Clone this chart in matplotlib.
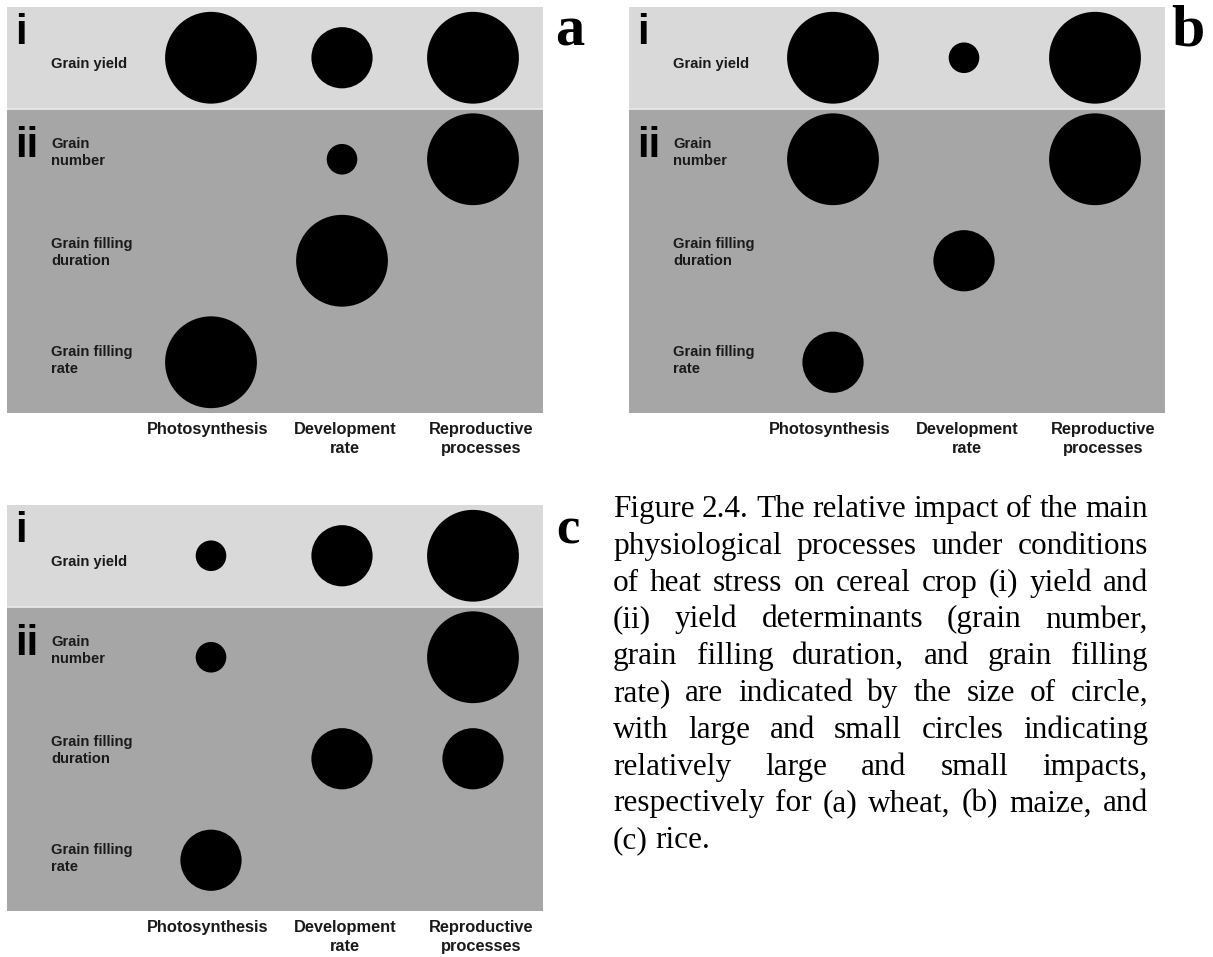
import matplotlib

matplotlib.use("Agg")

import matplotlib.pyplot as plt

# yield components (rows) and physiological processes (columns)
traits = ["Grain yield", "Grain\nnumber", "Grain filling\nduration", "Grain filling\nrate"]
processes = ["Photosynthesis", "Development\nrate", "Reproductive\nprocesses"]

# relative impact of heat stress: 0 = none, 1 = small, 2 = medium, 3 = large
wheat_impact = [
    [3, 2, 3],
    [0, 1, 3],
    [0, 3, 0],
    [3, 0, 0],
]
maize_impact = [
    [3, 1, 3],
    [3, 0, 3],
    [0, 2, 0],
    [2, 0, 0],
]
rice_impact = [
    [1, 2, 3],
    [1, 0, 3],
    [0, 2, 2],
    [2, 0, 0],
]
panel_letters = ["a", "b", "c"]

caption_lines = [
    "Figure 2.4. The relative impact of the main",
    "physiological processes under conditions",
    "of heat stress on cereal crop (i) yield and",
    "(ii) yield determinants (grain number,",
    "grain filling duration, and grain filling",
    "rate) are indicated by the size of circle,",
    "with large and small circles indicating",
    "relatively large and small impacts,",
    "respectively for (a) wheat, (b) maize, and",
    "(c) rice.",
]

# layout, in pixels of the saved image
FIG_W, FIG_H, DPI = 1213, 957, 100
BOX_W, BOX_H = 536, 406
PANEL_ORIGINS = [(7, 7), (629, 7), (7, 505)]
LETTER_POS = [(555, 45), (1171, 45), (556, 543)]
LETTER_SIZES = [42, 43, 38]
COL0, COL_STEP = 204, 131
ROW_STEP = BOX_H / 4
DIAM_PER_LEVEL = 30.6
LABEL_X = 44
LABEL_DY = [6, -7, -8, -2]
COL_LABEL_X = [201, 338, 474]
LIGHT, DARK = "#d9d9d9", "#a6a6a6"
SANS = ["Liberation Sans", "DejaVu Sans"]
SERIF = ["Liberation Serif", "DejaVu Serif"]


def px_to_axes(x: float, y: float) -> tuple[float, float]:
    return x / BOX_W, 1 - y / BOX_H


def draw_panel(fig, origin, impact, letter, letter_pos, letter_size) -> None:
    ox, oy = origin
    ax = fig.add_axes([ox / FIG_W, 1 - (oy + BOX_H) / FIG_H, BOX_W / FIG_W, BOX_H / FIG_H])
    ax.set_xlim(-COL0 / COL_STEP, (BOX_W - COL0) / COL_STEP)
    ax.set_ylim(4, 0)
    ax.set_axis_off()

    ax.axhspan(0, 1, color=LIGHT, lw=0, zorder=0)
    ax.axhspan(1, 4, color=DARK, lw=0, zorder=0)
    ax.axhline(1, color="#ebebeb", lw=1.2, zorder=1)

    xs, ys, sizes = [], [], []
    for r, row in enumerate(impact):
        for c, level in enumerate(row):
            if level > 0:
                xs.append(c)
                ys.append(r + 0.5)
                diam_pt = level * DIAM_PER_LEVEL * 72 / DPI
                sizes.append(diam_pt ** 2)
    ax.scatter(xs, ys, s=sizes, c="black", linewidths=0, zorder=3, clip_on=False)

    for r, label in enumerate(traits):
        x, y = px_to_axes(LABEL_X, (r + 0.5) * ROW_STEP + LABEL_DY[r])
        ax.text(x, y, label, transform=ax.transAxes, ha="left", va="center",
                fontsize=10.6, fontweight="bold", family=SANS, color="#1a1a1a", linespacing=1.3)

    for numeral, base in (("i", 37), ("ii", 150)):
        x, y = px_to_axes(8.5, base)
        ax.text(x, y, numeral, transform=ax.transAxes, ha="left", va="baseline",
                fontsize=30, fontweight="bold", family=SANS, color="black")

    for cx, label in zip(COL_LABEL_X, processes):
        x, y = px_to_axes(cx, 415)
        ax.text(x, y, label, transform=ax.transAxes, ha="center", va="top",
                fontsize=11.8, fontweight="bold", family=SANS, color="#1a1a1a",
                linespacing=1.35, clip_on=False)

    lx, ly = letter_pos
    fig.text(lx / FIG_W, 1 - ly / FIG_H, letter, ha="left", va="baseline",
             fontsize=letter_size, fontweight="bold", family=SERIF)


def draw_caption(fig) -> None:
    left, right = 613, 1148
    first_base, step = 517, 36.8
    size = 22.5
    renderer = fig.canvas.get_renderer()
    space = 0.25 * size * DPI / 72
    for k, line in enumerate(caption_lines):
        words = line.split(" ")
        y = 1 - (first_base + k * step) / FIG_H
        texts = [fig.text(0, y, w, ha="left", va="baseline", fontsize=size, family=SERIF)
                 for w in words]
        widths = [t.get_window_extent(renderer).width for t in texts]
        if k == len(caption_lines) - 1 or len(words) == 1:
            gap = space
        else:
            gap = (right - left - sum(widths)) / (len(words) - 1)
        x = left
        for t, w in zip(texts, widths):
            t.set_x(x / FIG_W)
            x += w + gap


def main() -> None:
    fig = plt.figure(figsize=(FIG_W / DPI, FIG_H / DPI), dpi=DPI, facecolor="white")
    impacts = [wheat_impact, maize_impact, rice_impact]
    for origin, impact, letter, lpos, lsize in zip(PANEL_ORIGINS, impacts, panel_letters,
                                                   LETTER_POS, LETTER_SIZES):
        draw_panel(fig, origin, impact, letter, lpos, lsize)
    draw_caption(fig)
    fig.savefig("out.png", dpi=DPI, facecolor="white")
    plt.close(fig)


if __name__ == "__main__":
    main()
